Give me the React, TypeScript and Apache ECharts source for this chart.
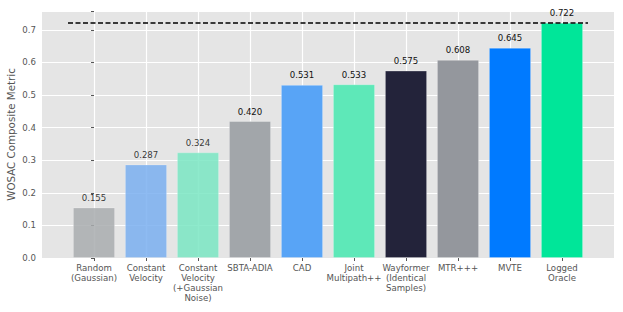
import React, { useEffect, useRef } from "react";
import * as echarts from "echarts";

const categories = [
  "Random\n(Gaussian)",
  "Constant\nVelocity",
  "Constant\nVelocity\n(+Gaussian\nNoise)",
  "SBTA-ADIA",
  "CAD",
  "Joint\nMultipath++",
  "Wayformer\n(Identical\nSamples)",
  "MTR+++",
  "MVTE",
  "Logged\nOracle",
];
const values = [0.155, 0.287, 0.324, 0.42, 0.531, 0.533, 0.575, 0.608, 0.645, 0.722];
const colors = [
  "#a9adaf",
  "#7aaff0",
  "#7ae6c3",
  "#a2a6aa",
  "#58a4f6",
  "#5ee8b8",
  "#23233a",
  "#94979d",
  "#007aff",
  "#00e699",
];
const opacities = [0.85, 0.85, 0.85, 1, 1, 1, 1, 1, 1, 1];
const oracleValue = 0.722;
const yTicks = [0, 0.1, 0.2, 0.3, 0.4, 0.5, 0.6, 0.7];

const FONT = "DejaVu Sans";

export default function App() {
  const ref = useRef<HTMLDivElement>(null);
  useEffect(() => {
    if (!ref.current) return;
    const chart = echarts.init(ref.current, undefined, { renderer: "svg" });
    chart.setOption({
      animation: false,
      textStyle: { fontFamily: FONT },
      grid: {
        left: 42,
        right: 9,
        top: 11,
        bottom: 54,
        show: true,
        backgroundColor: "#e5e5e5",
        borderWidth: 0,
        containLabel: false,
        outerBoundsMode: "none",
      },
      xAxis: {
        type: "value",
        min: -1,
        max: 10,
        interval: 1,
        axisLine: { show: false },
        axisTick: {
          show: true,
          length: 3,
          lineStyle: { color: "#555" },
          customValues: categories.map((_, i) => i),
        },
        axisLabel: {
          customValues: categories.map((_, i) => i),
          formatter: (v: number) => categories[Math.round(v)] ?? "",
          fontFamily: FONT,
          fontSize: 8.6,
          lineHeight: 10,
          color: "#555",
          margin: 5,
          showMinLabel: true,
          showMaxLabel: true,
          hideOverlap: false,
          interval: 0,
        },
        splitLine: {
          show: true,
          lineStyle: { color: "#ffffff", width: 1.2 },
        },
      },
      yAxis: {
        type: "value",
        min: 0,
        max: 0.758,
        interval: 0.1,
        name: "WOSAC Composite Metric",
        nameLocation: "middle",
        nameGap: 26,
        nameMoveOverlap: false,
        nameTextStyle: { fontFamily: FONT, fontSize: 10.3, color: "#555" },
        axisLine: { show: false },
        axisTick: { show: true, length: 3, lineStyle: { color: "#555" } },
        axisLabel: {
          customValues: yTicks,
          formatter: (v: number) => v.toFixed(1),
          fontFamily: FONT,
          fontSize: 8.6,
          color: "#555",
          margin: 6,
        },
        splitLine: { show: true, lineStyle: { color: "#ffffff", width: 1.2 } },
      },
      series: [
        {
          type: "bar",
          barWidth: 42,
          data: values.map((v, i) => ({
            value: [i, v],
            itemStyle: {
              color: colors[i],
              opacity: opacities[i],
              borderColor: "rgba(255,255,255,0.35)",
              borderWidth: 0.8,
            },
          })),
          label: {
            show: true,
            position: "top",
            distance: 5,
            fontFamily: FONT,
            fontSize: 8.6,
            color: "#111",
            formatter: (p: any) => p.value[1].toFixed(3),
          },
          markLine: {
            silent: true,
            symbol: "none",
            label: { show: false },
            lineStyle: { color: "#000", width: 1.5, type: [5, 2.5] },
            data: [
              [
                { coord: [-0.5, oracleValue] },
                { coord: [9.5, oracleValue] },
              ],
            ],
          },
        },
      ],
    });
    return () => chart.dispose();
  }, []);
  return <div ref={ref} style={{ width: 623, height: 312, position: "absolute", left: 0, top: 0 }} />;
}
